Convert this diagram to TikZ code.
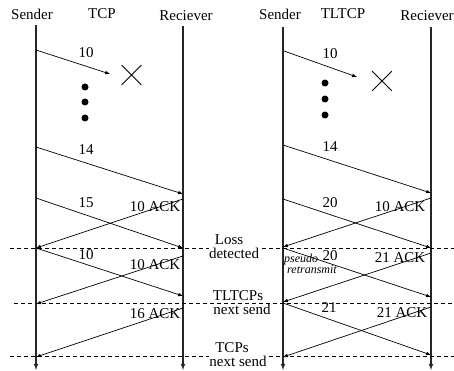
\documentclass[tikz,border=0pt]{standalone}
\usepackage{fontspec}
\setmainfont{Liberation Serif}
\usetikzlibrary{shapes,calc}

\begin{document}
\begin{tikzpicture}[x=1pt,y=-1pt,>=latex,font=\fontsize{15}{15}\selectfont,
    life/.style={->,line width=1.1pt,black!85},
    msg/.style={->,line width=0.7pt},
    sep/.style={dash pattern=on 4pt off 3pt,line width=0.7pt},
    note/.style={fill=white,inner sep=0pt,anchor=base},
    dot/.style={circle,fill,inner sep=0pt,minimum size=7pt},
    lost/.style={cross out,draw,inner sep=0pt,minimum size=19pt,line width=0.8pt}]
  \useasboundingbox (0,0) rectangle (454,370);

  % headers
  \node (S0) at (32,14) {Sender};
  \node (T0) at (102,14) {TCP};
  \node (R0) at (186,16) {Reciever};
  \node (S1) at (280,14) {Sender};
  \node (T1) at (343,14) {TLTCP};
  \node (R1) at (427,16) {Reciever};

  % lifelines
  \coordinate (Sa) at (36,25);   \coordinate (Sb) at ($(Sa)+(0,345)$);
  \coordinate (Ra) at (183,26);  \coordinate (Rb) at ($(Ra)+(0,344)$);
  \coordinate (Sc) at (283,27);  \coordinate (Sd) at ($(Sc)+(0,343)$);
  \coordinate (Rc) at (431,27);  \coordinate (Rd) at ($(Rc)+(0,343)$);
  \path[life] (Sa) edge (Sb) (Ra) edge (Rb) (Sc) edge (Sd) (Rc) edge (Rd);

  % separators
  \coordinate (D0) at (10,248);  \coordinate (D1) at (454,248);
  \coordinate (D2) at (14,303);  \coordinate (D3) at (454,303);
  \coordinate (D4) at (10,356);  \coordinate (D5) at (454,356);
  \path[sep] (D0) edge (D1) (D2) edge (D3) (D4) edge (D5);

  % TCP side
  \coordinate (A0) at (36,50);   \coordinate (A1) at (110,74);
  \coordinate (A2) at (36,147);  \coordinate (A3) at (183,194);
  \coordinate (A4) at (36,198);  \coordinate (A5) at (183,248);
  \coordinate (A6) at (183,199); \coordinate (A7) at (36,248);
  \coordinate (A8) at (183,296);
  \coordinate (A9) at (183,256); \coordinate (A10) at (36,304);
  \coordinate (A11) at (183,308); \coordinate (A12) at (36,357);
  \path[msg] (A0) edge (A1) (A2) edge (A3) (A4) edge (A5) (A6) edge (A7)
             (A7) edge (A8) (A9) edge (A10) (A11) edge (A12);
  \node[lost] (X0) at (131.5,75) {};
  \node[dot] (P0) at (85,87) {};
  \node[dot] (P1) at (85,102) {};
  \node[dot] (P2) at (85,118) {};
  \node (L0) at (86,53) {10};
  \node (L1) at (86,150) {14};
  \node (L2) at (86,203) {15};
  \node (L3) at (155,207) {10 ACK};
  \node (L4) at (86,255) {10};
  \node (L5) at (155,265) {10 ACK};
  \node (L6) at (155,314) {16 ACK};

  % TLTCP side
  \coordinate (B0) at (284,51);  \coordinate (B1) at (357,77);
  \coordinate (B2) at (283,145); \coordinate (B3) at (431,193);
  \coordinate (B4) at (283,199); \coordinate (B5) at (431,248);
  \coordinate (B6) at (431,198); \coordinate (B7) at (283,247);
  \coordinate (B8) at (283,248); \coordinate (B9) at (431,297);
  \coordinate (B10) at (431,253); \coordinate (B11) at (283,302);
  \coordinate (B12) at (283,303); \coordinate (B13) at (431,355);
  \coordinate (B14) at (431,307); \coordinate (B15) at (283,357);
  \path[msg] (B0) edge (B1) (B2) edge (B3) (B4) edge (B5) (B6) edge (B7)
             (B8) edge (B9) (B10) edge (B11) (B12) edge (B13) (B14) edge (B15);
  \node[lost] (X1) at (382,81) {};
  \node[dot] (P3) at (325,83) {};
  \node[dot] (P4) at (325,99) {};
  \node[dot] (P5) at (325,115) {};
  \node (M0) at (330,54) {10};
  \node (M1) at (330,147) {14};
  \node (M2) at (330,203) {20};
  \node (M3) at (400,207) {10 ACK};
  \node (M4) at (330,256) {20};
  \node (M5) at (400,258) {21 ACK};
  \node (M6) at (329,308) {21};
  \node (M7) at (402,313) {21 ACK};
  \node[anchor=west,align=left,inner sep=0pt,font=\fontsize{12}{11}\selectfont\itshape]
    (N0) at (284,264) {pseudo\\\ retransmit};

  % events
  \node[note] (E0) at (229,244.5) {Loss};
  \node[note] (E1) at (234,258.5) {detected};
  \node[note] (E2) at (238,300.5) {TLTCPs};
  \node[note] (E3) at (242,314.5) {next send};
  \node[note] (E4) at (232,352) {TCPs};
  \node[note] (E5) at (238,366) {next send};
\end{tikzpicture}
\end{document}
